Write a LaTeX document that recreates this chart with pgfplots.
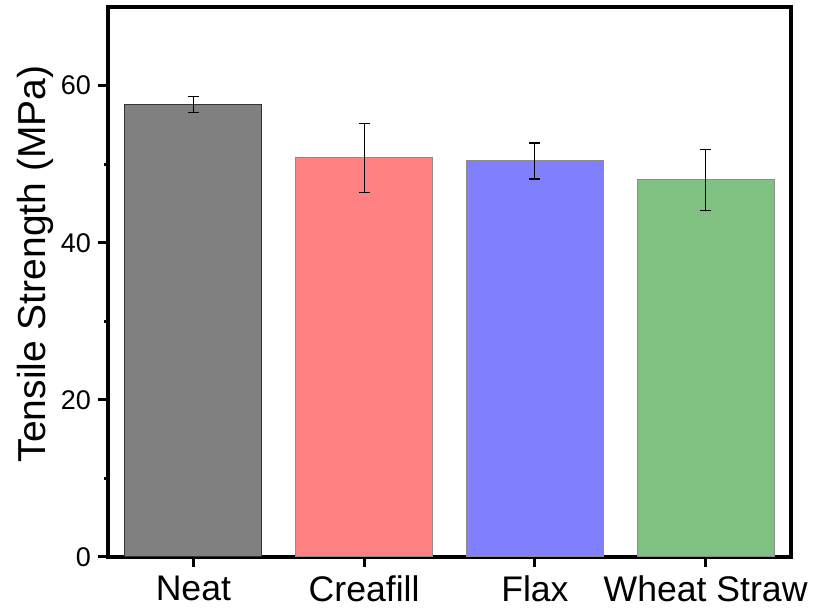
\documentclass[border=0pt]{standalone}
\usepackage{pgfplots}
\pgfplotsset{compat=1.18}
\usepackage{fontspec}
\setmainfont{Liberation Sans}
\definecolor{cgray}{RGB}{128,128,128}
\definecolor{cred}{RGB}{255,128,128}
\definecolor{cblue}{RGB}{128,128,255}
\definecolor{cgreen}{RGB}{128,192,128}
\begin{document}
\begin{tikzpicture}
\begin{axis}[
  scale only axis,
  width=341.5pt, height=275pt,
  xmin=-0.5, xmax=3.5, ymin=0, ymax=70,
  xtick={0,1,2,3},
  xticklabels={Neat,Creafill,Flax,Wheat Straw},
  ytick={0,20,40,60},
  minor ytick={10,30,50},
  tick pos=left,
  tick align=outside,
  major tick length=5pt,
  minor tick length=2pt,
  every tick/.style={black, line width=1.5pt},
  axis line style={line width=2pt},
  /pgf/number format/assume math mode=true,
  xticklabel style={font=\fontsize{17.8}{20}\selectfont, yshift=-1pt},
  yticklabel style={font=\fontsize{13.5}{16}\selectfont},
  ylabel={Tensile Strength (MPa)},
  ylabel style={font=\fontsize{19.5}{22}\selectfont, xshift=9pt, yshift=-3pt},
  ybar, bar width=68.4pt, bar shift=0pt,
  every axis plot/.append style={line width=0.5pt},
  error bars/error bar style={line width=0.6pt, black},
  error bars/error mark options={rotate=90, mark size=2.75pt, line width=0.6pt, black},
]
\addplot[fill=cgray, draw=black!80, error bars/.cd, y dir=both, y explicit]
  coordinates {(0,57.6) +- (0,1.05)};
\addplot[fill=cred, draw=black!45, error bars/.cd, y dir=both, y explicit]
  coordinates {(1,50.8) +- (0,4.4)};
\addplot[fill=cblue, draw=black!45, error bars/.cd, y dir=both, y explicit]
  coordinates {(2,50.4) +- (0,2.3)};
\addplot[fill=cgreen, draw=black!45, error bars/.cd, y dir=both, y explicit]
  coordinates {(3,48.0) +- (0,3.9)};
\end{axis}
\pgfresetboundingbox
\path (current axis.south west) ++(-54pt,-28pt) rectangle ([xshift=13.5pt,yshift=3.5pt]current axis.north east);
\end{tikzpicture}
\end{document}
